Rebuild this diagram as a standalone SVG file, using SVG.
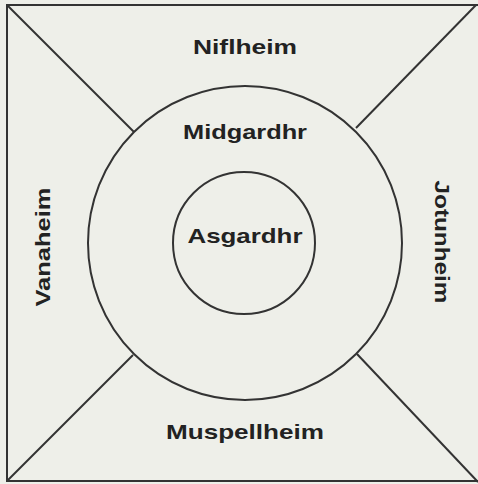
<svg xmlns="http://www.w3.org/2000/svg" width="478" height="484" viewBox="0 0 478 484">
<style>
.ln{fill:none;stroke:#333;stroke-width:2}
.t{font-family:"Liberation Sans",Arial,sans-serif;font-weight:bold;font-size:21px;fill:#222;text-anchor:middle}
</style>
<rect x="0" y="0" width="478" height="484" fill="#eeefe9"/>
<g id="connectors">
<line class="ln" x1="7" y1="5" x2="134" y2="132"/>
<line class="ln" x1="476" y1="5" x2="356" y2="128"/>
<line class="ln" x1="7" y1="481" x2="133" y2="355"/>
<line class="ln" x1="478" y1="482" x2="357" y2="354"/>
</g>
<g id="frame"><path class="ln" d="M478,5 H7 V481 H478"/></g>
<g id="midgardhr"><circle class="ln" cx="245" cy="243" r="157"/><text class="t" x="245" y="139" textLength="124" lengthAdjust="spacingAndGlyphs">Midgardhr</text></g>
<g id="asgardhr"><circle class="ln" cx="244" cy="243" r="71"/><text class="t" x="245" y="243" textLength="115" lengthAdjust="spacingAndGlyphs">Asgardhr</text></g>
<g id="niflheim"><text class="t" x="245" y="54" textLength="104" lengthAdjust="spacingAndGlyphs">Niflheim</text></g>
<g id="muspellheim"><text class="t" x="245" y="439" textLength="158" lengthAdjust="spacingAndGlyphs">Muspellheim</text></g>
<g id="vanaheim"><text class="t" transform="translate(50,247) rotate(-90)" x="0" y="0" textLength="119" lengthAdjust="spacingAndGlyphs">Vanaheim</text></g>
<g id="jotunheim"><text class="t" transform="translate(435,242) rotate(90)" x="0" y="0" textLength="123" lengthAdjust="spacingAndGlyphs">Jotunheim</text></g>
</svg>
